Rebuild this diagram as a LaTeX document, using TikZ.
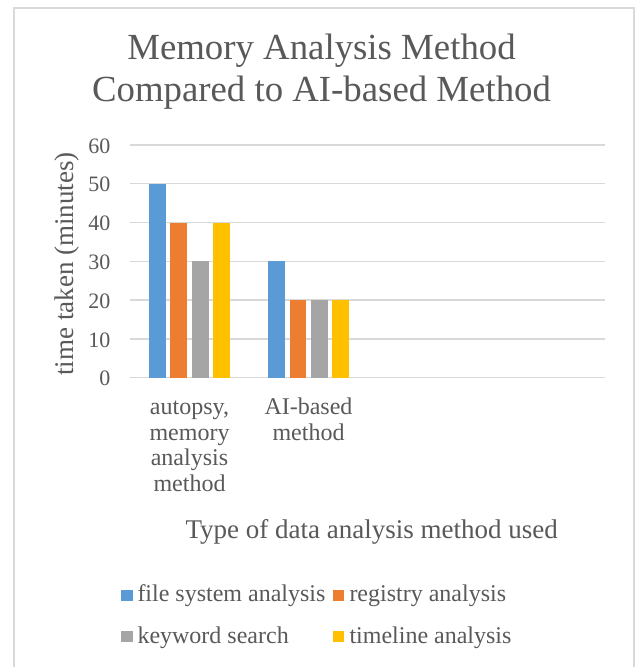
\documentclass[tikz,border=0pt]{standalone}
\usepackage{fontspec}
\setmainfont{Liberation Serif}
\definecolor{cblue}{HTML}{5B9BD5}
\definecolor{corange}{HTML}{ED7D31}
\definecolor{cgray}{HTML}{A5A5A5}
\definecolor{cyellow}{HTML}{FFC000}
\definecolor{gridc}{HTML}{D9D9D9}
\definecolor{txt}{HTML}{595959}
\begin{document}
\begin{tikzpicture}[x=1pt,y=-1pt,
  gridline/.style={draw=gridc,line width=1.3pt},
  frame/.style={draw=gridc,line width=1.3pt},
  ticklbl/.style={text=txt,inner sep=0pt,anchor=east,font=\fontsize{22}{24}\selectfont},
  catlbl/.style={text=txt,inner sep=0pt,anchor=base,font=\fontsize{24}{24}\selectfont},
  axtitle/.style={text=txt,inner sep=0pt,anchor=base,font=\fontsize{27}{30}\selectfont},
  titletext/.style={text=txt,inner sep=0pt,anchor=base,font=\fontsize{36.8}{40}\selectfont},
  legtext/.style={text=txt,inner sep=0pt,anchor=base west,font=\fontsize{24}{26}\selectfont},
  legkey/.style={inner sep=0pt,minimum size=11.4pt,anchor=north west}]
\useasboundingbox (0,0) rectangle (636,667);
\clip (0,0) rectangle (636,667);
\fill[white] (0,0) rectangle (636,667);
\draw[frame] (14,8) rectangle (634,720);
% title
\node[titletext] (title1) at (321.5,59.3) {Memory Analysis Method};
\node[titletext] (title2) at (321.5,101.7) {Compared to AI-based Method};
% grid and ticks
\foreach \v in {0,...,6}{
  \draw[gridline] (130,{377.7-38.8*\v}) -- (605,{377.7-38.8*\v});
  \pgfmathtruncatemacro{\lbl}{10*\v}
  \node[ticklbl] (tick\v) at (110.5,{378.7-38.8*\v}) {\lbl};
}
% bars: group 1
\foreach \i/\val/\col in {0/50/cblue,1/40/corange,2/30/cgray,3/40/cyellow}{
  \fill[\col] ({149+21.45*\i},377.7) rectangle ({149+21.45*\i+16.7},{377.7-3.88*\val});
}
% bars: group 2
\foreach \i/\val/\col in {0/30/cblue,1/20/corange,2/20/cgray,3/20/cyellow}{
  \fill[\col] ({268.2+21.4*\i},377.7) rectangle ({268.2+21.4*\i+16.7},{377.7-3.88*\val});
}
% category labels
\node[catlbl] (c1a) at (189.5,414.3) {autopsy,};
\node[catlbl] (c1b) at (189.5,440.1) {memory};
\node[catlbl] (c1c) at (189.5,465.9) {analysis};
\node[catlbl] (c1d) at (189.5,491.7) {method};
\node[catlbl] (c2a) at (308.5,414.3) {AI-based};
\node[catlbl] (c2b) at (308.5,440.1) {method};
% axis titles
\node[axtitle] (xtitle) at (371.7,538.3) {Type of data analysis method used};
\node[axtitle,rotate=90] (ytitle) at (73,264) {time taken (minutes)};
% legend
\node[legkey,fill=cblue] (k1) at (121,589.3) {};
\node[legtext] (l1) at (137.3,601.7) {file system analysis};
\node[legkey,fill=corange] (k2) at (332.5,589.3) {};
\node[legtext] (l2) at (349.3,601.7) {registry analysis};
\node[legkey,fill=cgray] (k3) at (121,630.5) {};
\node[legtext] (l3) at (137.3,643.2) {keyword search};
\node[legkey,fill=cyellow] (k4) at (332.5,630.5) {};
\node[legtext] (l4) at (349.3,643.2) {timeline analysis};
\end{tikzpicture}
\end{document}
